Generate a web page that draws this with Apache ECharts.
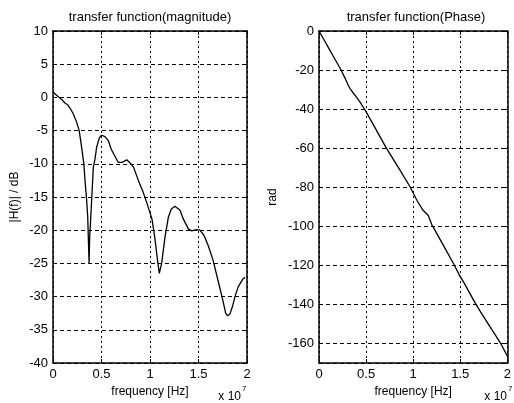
<!DOCTYPE html>
<html>
<head>
<meta charset="utf-8">
<script src="https://cdn.jsdelivr.net/npm/echarts@6/dist/echarts.min.js"></script>
<style>
  html, body { margin: 0; padding: 0; background: #fff; }
  #chart { width: 514px; height: 403px; }
</style>
</head>
<body>
<div id="chart"></div>
<script>
// frequency in units of 1e7 Hz (axis shows "x 10^7")
var magFreq = [0, 0.02, 0.04, 0.06, 0.09, 0.12, 0.15, 0.175, 0.21, 0.245, 0.27, 0.295, 0.318, 0.33, 0.347,
  0.358, 0.366, 0.372, 0.378, 0.388, 0.40, 0.416, 0.433, 0.45, 0.478, 0.50, 0.536, 0.57, 0.60, 0.64,
  0.673, 0.71, 0.76, 0.79, 0.83, 0.88, 0.93, 0.97, 1.02, 1.05, 1.075, 1.096, 1.12, 1.155, 1.19,
  1.22, 1.257, 1.31, 1.343, 1.395, 1.43, 1.48, 1.515, 1.557, 1.60, 1.65, 1.70, 1.75, 1.78, 1.80,
  1.825, 1.85, 1.876, 1.91, 1.96, 1.98];
var magDb = [0.8, 0.5, 0.3, 0.1, -0.3, -0.8, -1.1, -1.6, -2.5, -3.8, -5.0, -7.5, -10, -12.5, -15.5,
  -18, -22, -25, -21, -18.5, -15, -10.5, -9.3, -7.5, -6.1, -5.7, -5.9, -6.5, -7.8, -8.9,
  -9.8, -9.8, -9.4, -9.8, -10.5, -12.5, -14.3, -16, -18.3, -21.2, -24.2, -26.5, -25, -21, -18,
  -16.8, -16.4, -17, -18.3, -19.8, -20.1, -19.9, -20, -20.8, -22.3, -24.5, -27.5, -30.5, -32.5, -32.9,
  -32.6, -31.5, -30, -28.5, -27.3, -27.1];

var phaseFreq = [0, 0.05, 0.10, 0.15, 0.20, 0.234, 0.28, 0.31, 0.33, 0.36, 0.40, 0.45, 0.49, 0.60,
  0.715, 0.85, 0.97, 1.04, 1.10, 1.16, 1.196, 1.30, 1.436, 1.49, 1.54, 1.66, 1.73, 1.866, 1.935, 2.0];
var phaseRad = [0, -4.2, -8.5, -12.8, -17, -20, -24.5, -27.8, -29.5, -31.5, -34, -37.5, -40.5, -50,
  -60, -70.5, -80, -86.8, -91.5, -94.5, -99, -108, -119.8, -125, -129, -139.5, -145, -155.2, -160.5, -166.5];

var freqTicks = [0, 0.5, 1, 1.5, 2];
var magRange = [-40, 10];
var phaseRange = [-170, 0];

var FONT = '"Liberation Sans", Arial, sans-serif';

function zip(xs, ys) {
  return xs.map(function (x, i) { return [x, ys[i]]; });
}

var chart = echarts.init(document.getElementById('chart'));

var grids = [
  { left: 53, top: 31, width: 194, height: 332 },
  { left: 319, top: 31, width: 194, height: 332 }
];

// matlab style dotted grid
var vGrid = { show: true, lineStyle: { color: '#000', type: [2, 3], width: 1 } };
var hGrid = { show: true, lineStyle: { color: '#000', type: [4, 3], width: 1 } };
var axisLine = { show: true, onZero: false, lineStyle: { color: '#000', width: 1.5 } };
var tick = { show: true, inside: true, length: 4, lineStyle: { color: '#000' } };
var label = { color: '#000', fontSize: 13, fontFamily: FONT };

function freqAxis(gi) {
  return {
    type: 'value', gridIndex: gi, min: freqTicks[0], max: freqTicks[freqTicks.length - 1], interval: 0.5,
    axisLine: axisLine, axisTick: tick, splitLine: vGrid,
    axisLabel: Object.assign({ margin: 5 }, label),
    name: 'frequency [Hz]', nameLocation: 'middle', nameGap: 22,
    nameTextStyle: { color: '#000', fontSize: 12, fontFamily: FONT }
  };
}
function topAxis(gi) {
  return {
    type: 'value', gridIndex: gi, position: 'top', min: 0, max: 2, interval: 0.5,
    axisLine: axisLine, axisTick: tick, splitLine: { show: false }, axisLabel: { show: false }
  };
}

var option = {
  animation: false,
  backgroundColor: '#fff',
  textStyle: { fontFamily: FONT },
  grid: grids,
  xAxis: [freqAxis(0), freqAxis(1), topAxis(0), topAxis(1)],
  yAxis: [
    {
      type: 'value', gridIndex: 0, min: magRange[0], max: magRange[1], interval: 5,
      axisLine: axisLine, axisTick: tick, splitLine: hGrid,
      axisLabel: Object.assign({ margin: 5 }, label),
      name: '|H(f)| / dB', nameLocation: 'middle', nameGap: 32, nameRotate: 90,
      nameTextStyle: { color: '#000', fontSize: 12, fontFamily: FONT }
    },
    {
      type: 'value', gridIndex: 1, min: phaseRange[0], max: phaseRange[1],
      splitNumber: 8, minInterval: 20, maxInterval: 20,
      axisLine: axisLine, axisTick: tick, splitLine: hGrid,
      axisLabel: Object.assign({ margin: 5, showMinLabel: false }, label),
      name: 'rad', nameLocation: 'middle', nameGap: 40, nameRotate: 90,
      nameTextStyle: { color: '#000', fontSize: 12, fontFamily: FONT }
    },
    {
      type: 'value', gridIndex: 0, position: 'right', min: magRange[0], max: magRange[1], interval: 5,
      axisLine: axisLine, axisTick: tick, splitLine: { show: false }, axisLabel: { show: false }
    },
    {
      type: 'value', gridIndex: 1, position: 'right', min: phaseRange[0], max: phaseRange[1],
      splitNumber: 8, minInterval: 20, maxInterval: 20,
      axisLine: axisLine, axisTick: tick, splitLine: { show: false }, axisLabel: { show: false }
    }
  ],
  graphic: [
    { type: 'text', x: 150, y: 17, style: { text: 'transfer function(magnitude)', font: '13px ' + FONT, fill: '#000', textAlign: 'center', textVerticalAlign: 'middle' } },
    { type: 'text', x: 416, y: 17, style: { text: 'transfer function(Phase)', font: '13px ' + FONT, fill: '#000', textAlign: 'center', textVerticalAlign: 'middle' } },
    { type: 'text', x: 241, y: 397, style: { text: 'x 10', font: '12px ' + FONT, fill: '#000', textAlign: 'right', textVerticalAlign: 'middle' } },
    { type: 'text', x: 242, y: 389, style: { text: '7', font: '8px ' + FONT, fill: '#000', textAlign: 'left', textVerticalAlign: 'middle' } },
    { type: 'text', x: 507, y: 397, style: { text: 'x 10', font: '12px ' + FONT, fill: '#000', textAlign: 'right', textVerticalAlign: 'middle' } },
    { type: 'text', x: 508, y: 389, style: { text: '7', font: '8px ' + FONT, fill: '#000', textAlign: 'left', textVerticalAlign: 'middle' } }
  ],
  series: [
    {
      name: 'magnitude', type: 'line', xAxisIndex: 0, yAxisIndex: 0,
      data: zip(magFreq, magDb), showSymbol: false,
      lineStyle: { color: '#000', width: 1.3 }
    },
    {
      name: 'phase', type: 'line', xAxisIndex: 1, yAxisIndex: 1,
      data: zip(phaseFreq, phaseRad), showSymbol: false,
      lineStyle: { color: '#000', width: 1.3 }
    }
  ]
};

chart.setOption(option);
</script>
</body>
</html>
